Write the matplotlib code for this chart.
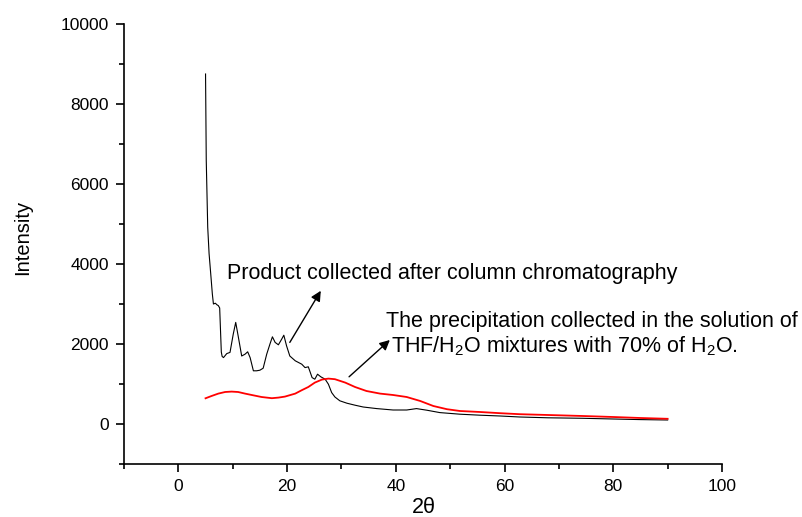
import matplotlib
matplotlib.use("Agg")
import matplotlib.pyplot as plt
from matplotlib.ticker import MultipleLocator

plt.rcParams['font.family'] = ['Liberation Sans', 'DejaVu Sans']
plt.rcParams['mathtext.fontset'] = 'custom'
plt.rcParams['mathtext.rm'] = 'Liberation Sans'
plt.rcParams['mathtext.it'] = 'Liberation Sans:italic'

# XRD pattern of the column-purified product
product_2theta = [5.0, 5.13, 5.4, 5.65, 5.95, 6.25, 6.45, 6.8, 7.1, 7.35, 7.6, 7.9,
                  8.05, 8.3, 8.9, 9.5, 10.1, 10.55, 11.0, 11.65, 12.26, 12.75, 13.2,
                  13.8, 14.4, 15.0, 15.6, 16.25, 16.85, 17.3, 17.8, 18.4, 19.0, 19.4,
                  19.9, 20.5, 21.5, 22.7, 23.3, 23.9, 24.6, 25.1, 25.6, 26.2, 27.0,
                  27.6, 28.2, 28.8, 29.7, 31.0, 32.5, 34.0, 36.5, 39.5, 42.0, 43.8,
                  45.7, 48.1, 51.8, 55.5, 59.2, 62.8, 68.0, 74.4, 80.0, 85.0, 90.0]
product_intensity = [8750, 6590, 4920, 4260, 3760, 3250, 3000, 3020, 2980, 2960, 2900, 1800,
                     1690, 1660, 1760, 1790, 2250, 2540, 2200, 1700, 1745, 1805, 1660,
                     1330, 1330, 1345, 1395, 1745, 2000, 2180, 2040, 1980, 2120, 2220,
                     1955, 1700, 1580, 1495, 1410, 1430, 1160, 1120, 1245, 1180, 1120,
                     995, 785, 675, 580, 520, 470, 425, 385, 350, 350, 385,
                     345, 285, 245, 220, 200, 175, 155, 143, 125, 110, 100]

# XRD pattern of the precipitate from THF/H2O (70% water)
precip_2theta = [5.0, 6.1, 7.35, 8.6, 9.8, 11.0, 12.26, 13.5, 15.3, 17.2, 18.4, 19.6,
                 21.5, 22.7, 23.9, 25.1, 26.4, 27.6, 28.8, 30.7, 32.5, 34.6, 37.1,
                 39.5, 42.0, 44.5, 46.9, 49.4, 51.8, 55.5, 59.2, 62.8, 68.0, 74.4,
                 80.0, 85.0, 90.0]
precip_intensity = [643, 700, 760, 800, 810, 800, 760, 725, 675, 645, 660, 685,
                    760, 845, 925, 1035, 1110, 1135, 1120, 1035, 925, 825, 760,
                    725, 675, 575, 450, 370, 325, 300, 270, 245, 225, 200,
                    175, 150, 130]

x_ticks = [0, 20, 40, 60, 80, 100]
y_ticks = [0, 2000, 4000, 6000, 8000, 10000]

fig = plt.figure(figsize=(8.03, 5.17), dpi=100)
ax = fig.add_axes([124 / 803, 53 / 517, 598 / 803, 440 / 517])

ax.plot(product_2theta, product_intensity, color='black', lw=0.8)
ax.plot(precip_2theta, precip_intensity, color='#ff0000', lw=1.3)

ax.set_xlim(-10, 100)
ax.set_ylim(-1000, 10000)
ax.set_xticks(x_ticks)
ax.set_yticks(y_ticks)
ax.xaxis.set_minor_locator(MultipleLocator(10))
ax.yaxis.set_minor_locator(MultipleLocator(1000))

for side in ('top', 'right'):
    ax.spines[side].set_visible(False)
for side in ('left', 'bottom'):
    ax.spines[side].set_linewidth(1.2)

ax.tick_params(which='major', direction='out', length=6, width=1.2,
               labelsize=12.5, pad=5)
ax.tick_params(which='minor', direction='out', length=3.8, width=1.2)

ax.set_xlabel('2θ', fontsize=15.5)
ax.xaxis.set_label_coords(0.502, -0.074)
fig.text(23 / 803, 0.541, 'Intensity', rotation=90, ha='center', va='center',
         fontsize=14.5)

arrow = dict(arrowstyle='-|>', color='black', lw=1.0, mutation_scale=15,
             shrinkA=0, shrinkB=0)

ax.annotate('', xy=(26.2, 3330), xytext=(20.5, 2040), arrowprops=arrow)
ax.text(8.95, 3634, 'Product collected after column chromatography',
        fontsize=15.5, va='baseline', ha='left')

ax.annotate('', xy=(38.9, 2100), xytext=(31.4, 1180), arrowprops=arrow)
ax.text(38.2, 2431, 'The precipitation collected in the solution of',
        fontsize=15.5, va='baseline', ha='left')
ax.text(39.06, 1787, r'THF/H$_2$O mixtures with 70% of H$_2$O.',
        fontsize=15.5, va='baseline', ha='left')

fig.savefig('out.png', dpi=100)
